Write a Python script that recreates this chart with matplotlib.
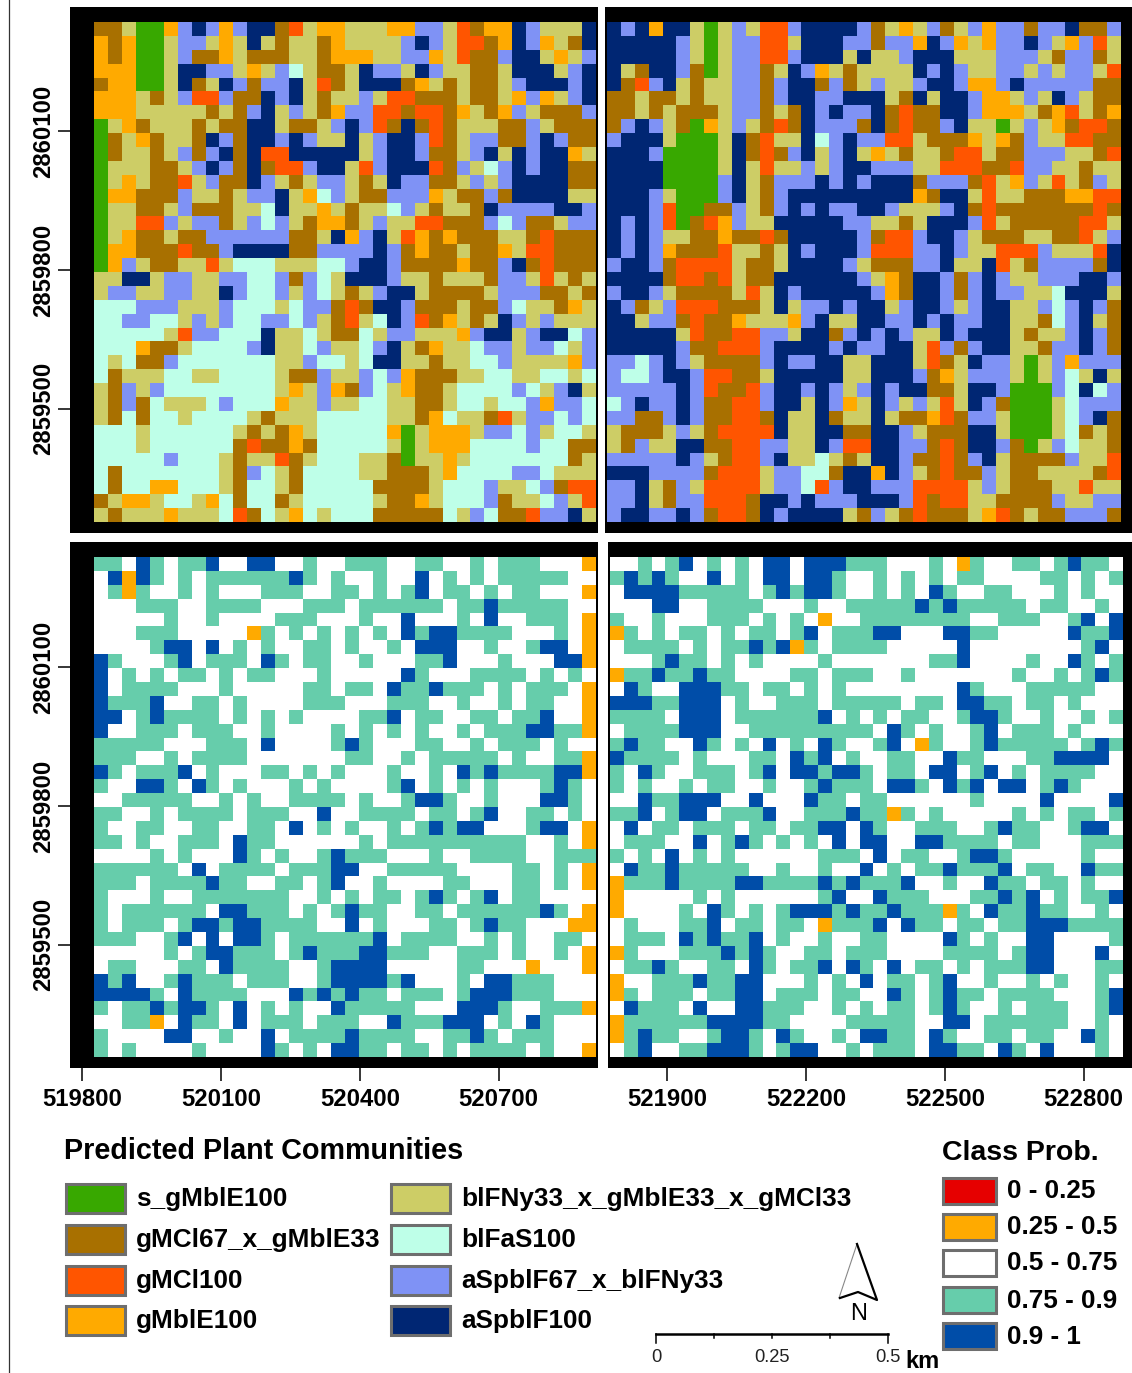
"""
Predicted plant communities and class probability, four map panels
"""

import numpy as np
import matplotlib
matplotlib.use("Agg")
import matplotlib.pyplot as plt
from matplotlib.colors import ListedColormap
from matplotlib.patches import Polygon, Rectangle

plt.rcParams["font.family"] = ["Liberation Sans", "DejaVu Sans"]

W_PX, H_PX = 1132, 1373

# ── DATA ─────────────────────────────────────────────────────────────────────
# community codes: G B R O Y M P N   (same order as COMM_LABELS)
COMM_WEST = [
    "BBYGGOPNPOPNNBRYOO" + "YYYOOPPYRBOONPYYYN",
    "OBOGGYPPYOYNYBYYBO" + "YYYYPNPYRRBONPOYBN",
    "OBOGGYPBBOYBBBYYBO" + "OOYYPPOYRBBPNNYOYP",
    "OOOGGYNNPPYOYPMYBB" + "YNPPYNPYYBBYNNNYPN",
    "BOOGGYNBYNPBPPNYRB" + "YNNNBOYBYBBYPNNNPN",
    "OOOYBYPRRPBBNPNYBY" + "YPYRRBBBYBBYOPOYPN",
    "OOOYYYYYBYBPNYPYBO" + "PPRRBRRBOYBOPYBBBP",
    "GYOBYYYBYBBNNYBBYP" + "NPRBNBRBYYYBBPYBBB",
    "GBYOBYYBNPBNNPNPYY" + "NYPNNPRBYPPBBPNPBB",
    "GBYYBYPBPNBNRRNNNN" + "NYPNNPBBYPNYNPNNOY",
    "GYYYBBYPNPBNBRRPNN" + "YRPNNNRBPYMPNPNNBB",
    "GYOYBBRYPBBNPYBYPP" + "YBYNPPBBYPYPNNNNBB",
    "GOOBBBPYYBYPPNYOMP" + "YBBPPPOYBBPBNNNNYY",
    "GYYBBYPBBBYYMNYYOY" + "BYYMPYBYYBNPPPPNNP",
    "GYYRRPYPPBYPMPYBOO" + "BYPYYRRBBBPMPBBYPP",
    "GYOBBYBBPPPPPPBBYN" + "OPNYROBOBBBYYBRBBB",
    "GOOBBBRBBPNNNNBBPP" + "PPNPBOBBYBBOYRRBBB",
    "GOPYBBYYRYMMMYYYMM" + "PNNPBBBBOBBPNBRBBB",
    "YYNNYPPYYPPMMPBPMY" + "NNNPYYBYYYBPPYRYBY",
    "YPPYYPPYYNPMMPYPMY" + "BYPNNYBBBBYPPPBBYB",
    "MMMPPPYYYPMMMYMPPB" + "RBNNPBBBYBBPMYYBOY",
    "MMPPMMYPYPMMPPMPYB" + "RYMNPRBOYBYNPYPYYY",
    "MMMMMYRPPMMMNYYMYB" + "BMYPPYYYOPNNYPNNMP",
    "MMMOBBYMMMMPNYYMPY" + "YMPNYBOYYMPPYPPMYP",
    "MYMBBPMMMMMMMYYPMM" + "YMNNYYBYYMMPYYYYOP",
    "MBYYYMMYYMMMMYBBPY" + "YPMPOBBBYYMMYYMMYM",
    "YBPYPMMMMMMMMYOYPO" + "BPMYOBBYMMMMPMYPNY",
    "YBPBMYYYMPMMMOYYPY" + "YMMYYBBYMMYMMPOPPM",
    "YBMBMMYMMMMYBYYYMM" + "MMMYYBOMYYBRYPPMPM",
    "MMMYMMMMMMYBYBOYMM" + "MMMOGYOOOYPPMPYMMY",
    "MMMYMMMMMMBRBBOBMM" + "MMMYGYOOOMMMMPMMBB",
    "MMMMMPMMMYBYYRBYMM" + "MYYBGYYOYMMMMMMMBY",
    "MBMMMMMMMYBPMYBMMM" + "MYYBBBYOMMMMPPMYYY",
    "MBMMOOMMMYBMMYBMMM" + "MMBBBBYMMMPYYMPBRR",
    "BYOOYMMYOMBMMBYMMM" + "MMYBBOYMMMPBYYMPYR",
    "YBYYYOYYYMRBMYOMYM" + "MMBBBBBMYPMBBRPPNY",
]

COMM_EAST = [
    "NPNONNYGYPYRRPNNNNPBYOYPBYPOPPBPPNBBP",
    "NNNNNPYGYPPRRYNNNPPBPPONPOYOPPNPYOPRY",
    "NNNNNPYGYPPRRPNNNYNYYPNNNYYYPPPYBPPBY",
    "NYBNNPBGYPPBYNPOYBYYYYNPNPYYPPYPYPPYR",
    "NBRPNYBYYPPBPNNBPBYPYYPNNPOOPNPPPPPBB",
    "BBYBBYBYYPPBPNNPPNNNYBNYNNPOOYPYNPYBB",
    "BBYBYBBBYPPBYBNPNPPNBRBBNNPOOOYBORYBO",
    "BPNPYBGOYPYBRBNPPPBNBRBBPNYYGYPYOBRRB",
    "PNNNYGGGYNBRYYNMPNPPRRYBBBOYOBPYYRRBB",
    "NNNPGGGGYNBRBPNYPNYOYBYYBRRYBBPPPYYBR",
    "NNNNGGGGYNYRYYPYPNNPPPYYRRRBBRPPYYBYY",
    "NNNNGGGGPNYBPPPNPNPNNNBPPPBRYOPYRYBPY",
    "NNNPYGGGPNYBPNNNNNNNNNOBNNYRYYBBBOORR",
    "NNNPRGGBBPYBPNPNPPNNPYYYPNBRBBBBBBBRB",
    "NPNPRGBROPYYNNNNNPPYYBYNNNPRYBBBBBRRY",
    "NPNPYYBBOBBRBNNNNNPBRRPNNPYBBBYYBBRYP",
    "NPNPOBBBRYYBYNPNNNPRRRPPNPYYRRRPYYYRN",
    "PNNPBRRRRYBBYNNNNPYBBBPPNYYNRYBPPPPBN",
    "NNNNBRRBRYBBNNNNNNPYOBNNPBPNPYYPPPNNP",
    "PNNPYBBBBYRYNPNNNNNPOBNNPBPNPPYYMNNNY",
    "NPBYPRRRBBBYNYPPNPNNYPNNPYPNNYYPMPNPB",
    "NNYPPBRBBOYYYOPNYYNNPPNPNPPNNYYBMPNYB",
    "NNNNNYRBBRRPPYNNBPNPNPYYNPNNNYBYYPNPB",
    "NNNNNPBBRRRPNNNNPNPPNNYRPBPNNYYBPPNPB",
    "PPMPNPYBBBBPNPPNNYYNNNYRBYNPPYGYPOPPP",
    "PMMPNNPRRBBYNNNNNYYNNNPBOYPPPYGYPMYNY",
    "PPPPPNPRBBRPNNPNPYPNPNNBBYNNPGGGPMNMP",
    "MPNPPNPBBRRPNNYNPOYNPYPYRYNPBGGGYMPPP",
    "PPBBPNPBBRRBNYYNBYYNYBBORBPPYGGGYMPNB",
    "YBBBYPYBRRRRNYYNNBBNNPYBBBNNYGGGYMBYB",
    "YBPYYNNBBRRPPYYNPRRNNPPBRBNNPBGYPMYYB",
    "PPPPPNPYBRRPNYYMYBYNNPBBRBPNYBBBBPYYR",
    "NNNPPPPBRRRYPPMMBNNONPYBRBBPYBBYYYYBR",
    "PPNYBPYRRRRYPPMRPNNPPPRRRRYPYBBBYYRYY",
    "PPNYBPPRRRBNNPNPPPNNNPRBRRYYBBBBPYYPP",
    "PNNPPNPBRRBNPNNNNYBPYBRBBBYORBYBBPPPB",
]

# probability codes: O W T D   (0.25-0.5, 0.5-0.75, 0.75-0.9, 0.9-1)
PROB_WEST = [
    "TTWDTWTTDWWDDWWTWWTTTWWTTWWTWTTTWWWO",
    "WDODTWTWTTTTTTDTWTWWTWWDWTWTWTTTTTWW",
    "WTOTWWTWTWWWTTTWWTTWTWTDWTTWTWTTWWWO",
    "WWWTTTWWTTTTWWWTTTWTTTTTTWTTDTTTTTWW",
    "WWWWWTWWTWWWWTTTWWWTWWDWWWTWDWWTTTWO",
    "WWWTTTWWWWWOTWTWTWTWTWDTDDTTTTWWWTWO",
    "WWWWTDDWDWTWTWWTTWTWWTWDDDWWTWWTDDWO",
    "DTWWWTDWTTTWDTWTTWWTWWWTTDWWWTWWWDDO",
    "DWTWTWTTWTWTTWWWTWWWWWDTWWWTTTTWTWTW",
    "DWTTTTWWWTWWWWWTTWTTWDTTDTTTWTWTTTWO",
    "DTTTDWWTTWTWWWWTTTWWWTTTWWTWWTWTTWWO",
    "DDWTDTTTTWTWTWTWWWWTTDWTTWWTTWTTDWWO",
    "DWWTTTWTTTWWTWWWWTWTWTWTWWTWTTTDDTTO",
    "TTTTTWWWTTTWDWWWWTDTWWWTTWWTWTTTWTWW",
    "TTTWWTWTTTTWWWWWWWTTWWTWTTTTTWTWWTTO",
    "DTWTTTDWTWWWTTWTWTWWWTWWTWDTDTTTTDDO",
    "TWWDDTWDTWTWWWTWTWWWWTDWTWTWTWWWTDTW",
    "WWTTTTTWWTWTWWTTTTWTWWTDDTWWTWWWDDTW",
    "TTWWTWTTTTWTTTWWDWWTTTTWTTWTDWWTTWTW",
    "TWWTTWWTTWWTTWDWTWTWWTWTDTDDWWWTDDWO",
    "TTWTWWTTTWDTTWWWWWWTWTTTTTTTTTTWWTWO",
    "WWWWTWTWWWDTWTWWTDTTTWWWTWWTTTTWWTTT",
    "TTTTTTWDWTTTTWTTTDDWWTTTTTWWWWTTWTWO",
    "TTTWTTTTDTTWWTTWTDWWTWWWWTTWWWTTWTWO",
    "TWWWTWWTTTTTTTWWTWTWTTWTDTWTDWTTWWWW",
    "TWTTTTTTWDDTTTWTWTDTTWWTTWTTTTTTDTWO",
    "TWTTTWTDDTDDTTTTWWDWTWWWTTWTDTTWWWOO",
    "TTTWWTDWDWDDTWTTTTTTDWTTTTWWTWTWWTTW",
    "WWWWWTWTDDTTTWTDTTTDDTTTWWTTTWTWWTWO",
    "WTTWWWTTWDTTTTWWTDDDDWWWWWTTWWWOWWWO",
    "DTDWWTDTTTWTTTWWTDDDDTDWWWTWDDTTTWWW",
    "DDDDTWDTTTTWWWDTDTDTTWTTTWTDDDTTTWWW",
    "TWTTDTDDTWDWTWTWWDTTTTTWWWDDDTWWTTTO",
    "WWTTOWDTTWDWTTTWTTTWWDTTTDDDWTWDTWWW",
    "TWWWWDDWWTWWDWTTTTDTTTTWWTTDTWTTTWWW",
    "TWTWWWWTWWWWDTWTWDDTTWTTWTWTTTTWTWWO",
]

PROB_EAST = [
    "WWTWTDWTWTWDDWDDDTTTWWWTWOTWWTTWTDTTW",
    "TDTDTWWDWTWDDWDDTWWTWTWTWTTWWWWTTWTWT",
    "WDDDDTTTTTWTDTDDTWWTWTWDTWWTTWWWTWTWW",
    "WWWDDWWTTTTWWWTWWTTTTTDTDTTTTTWTTWWTW",
    "TWWTWWWTTTWTWTWOWWTTTTTTTTWWTTTWWTDWD",
    "OTWTWTTWTWTTWTDWTTTDDWWWDDTTWWWWWDTTD",
    "WTTTTWTWTTDTDOTWTTTTWWWWWDWWWWWWWWTDW",
    "WWWTDTTWTWTWWWWTWWWWWWWTTDWWWWTWWDTWT",
    "OTTDTTDTTWWWWTTWTTTWWTWWWWWWWTWWTWTDT",
    "WDTWWDDDTTWTTWTWTWWWWWWWWDTWWWTTTTTWW",
    "DDDTTDDDWTWWTTTWTTTTTWTTWDDTTWTTWTWWW",
    "TTTTWDDDWTTTTTTDWTWTWTTWWTDDTWWTWWTWT",
    "WTTTTDDDWWTTTTTTTTTWDTWTWWTDWTTTWTWWW",
    "TDTTWWDTWTWDWTWDTWWTDWOTWWTDTTTTTWTDT",
    "DTTTTWTWWWTTWDTDWTWWTTWWDTTWWWTTDDDDW",
    "TWDTWWTTTWTDWDDTDDTWTTWDDWTDWTWTTTTWW",
    "TWTWWTWTTWWTWWTDTTTWDDTWDTDWDDWTDTWWW",
    "WWDTTDDDWWDWWWDTTWTTWWWWWWTWWWWDWWWWD",
    "TTDWTDDWTTTDWWTTTDTTOTWTWWWWWTWTWTTWT",
    "WDWTTWTTTWTTWTTDDWDTWWTTTWWTDTTWWTDDW",
    "WTTTWWDWTDTWTWTWDWDDWWDDTTTTWTTWWWTTT",
    "TWTWDWTWTWWWWWWTTTWDWTTWWTDDTWWWWWTWW",
    "WDTTDTTTTTWWTWWTWWDWTWTTDTTTDWTTWWDTT",
    "OTTTDTTTTDDTTTTDTDTTTDWWTWWDTTWTTWTWW",
    "OWWWWWTWTWWWWWWTDWWDTTTWWWTTDTDWTWTTD",
    "OWWWWTWDTWTWTDDDTDTTDTTTOTWDTTDTTWWTW",
    "WTWWWTTDWTTWTTWOTTTDWDTTWTTWTTDDDTTTT",
    "WTTTWDTDTTDWTWWTWWTTWWWWDTWTWWDDWWWWT",
    "OTWWWTTTDTDTWWTTWTTTWWWWTTTTWTDDWWWDW",
    "WTTDTWWTTWDTWTTDWDTWDWTTWTWTTTDDWWWTT",
    "OWWTTTDTTDDWWWTWTWDWTTWTDWWTWWTWTWWTW",
    "OTWTTTWTTDDWTTTWTTWWDTWTDTTWTTTTWWWTD",
    "WDTTTWDWWDDTTTWWTWTWTTWTDTWWTWTTTWWTD",
    "OTTTTTTDDDDTTWWWWTTTTTWWDDWTTTTTTWWTW",
    "OTDTTWWTDDTWDTWWTWDDTTWDTWWTTWTTWWDTW",
    "WTDWWTTDDDTWTDDWWTWTTTWDDTTWDTWDWWWTW",
]

COMM_CODES = "GBROYMPN"
COMM_COLORS = ["#38A800", "#A87000", "#FF5500", "#FFAA00",
               "#CDCD66", "#BEFFE8", "#7F92F5", "#002673"]
COMM_LABELS = ["s_gMblE100", "gMCl67_x_gMblE33", "gMCl100", "gMblE100",
               "blFNy33_x_gMblE33_x_gMCl33", "blFaS100",
               "aSpblF67_x_blFNy33", "aSpblF100"]

PROB_CODES = "OWTD"
PROB_COLORS = ["#FFAA00", "#FFFFFF", "#66CDAB", "#004DA8"]
CLASS_COLORS = ["#E60000", "#FFAA00", "#FFFFFF", "#66CDAB", "#004DA8"]
CLASS_LABELS = ["0 - 0.25", "0.25 - 0.5", "0.5 - 0.75", "0.75 - 0.9", "0.9 - 1"]

X_TICKS_WEST = [519800, 520100, 520400, 520700]
X_TICKS_EAST = [521900, 522200, 522500, 522800]
Y_TICKS = [2860100, 2859800, 2859500]
SCALE_LABELS = ["0", "0.25", "0.5"]

M_PER_PX = 300 / 138.9   # ground metres per pixel of the figure
TICK_FS = 17.2


def decode(rows, codes):
    return np.array([[codes.index(c) for c in row] for row in rows])


def map_panel(fig, frame, image, grid, colors, x_ref, y_ref, xticks=None, yticks=None):
    """frame / image are (left, top, right, bottom) in figure pixels,
    x_ref / y_ref tie one tick (metres) to its pixel position."""
    l, t, r, b = frame
    ax = fig.add_axes([l / W_PX, 1 - b / H_PX, (r - l) / W_PX, (b - t) / H_PX],
                      facecolor="black")

    to_x = lambda px: x_ref[0] + (px - x_ref[1]) * M_PER_PX
    to_y = lambda py: y_ref[0] - (py - y_ref[1]) * M_PER_PX

    ax.imshow(grid, cmap=ListedColormap(colors), vmin=0, vmax=len(colors) - 1,
              interpolation="nearest", aspect="auto",
              extent=[to_x(image[0]), to_x(image[2]), to_y(image[3]), to_y(image[1])])
    ax.set_xlim(to_x(l), to_x(r))
    ax.set_ylim(to_y(b), to_y(t))
    for s in ax.spines.values():
        s.set_visible(False)

    ax.set_xticks(xticks if xticks else [])
    ax.set_yticks(yticks if yticks else [])
    ax.tick_params(axis="x", length=9, width=1.1, color="black", pad=5.5, labelsize=TICK_FS)
    ax.tick_params(axis="y", length=9, width=1.1, color="black", pad=2, labelsize=TICK_FS)
    for lab in ax.get_xticklabels():
        lab.set_fontweight("bold")
    for lab in ax.get_yticklabels():
        lab.set_fontweight("bold")
        lab.set_rotation(90)
        lab.set_va("center")
    ax.xaxis.set_major_formatter("{x:.0f}")
    ax.yaxis.set_major_formatter("{x:.0f}")
    return ax


fig = plt.figure(figsize=(W_PX / 100, H_PX / 100), dpi=100, facecolor="white")

# ── MAP PANELS ───────────────────────────────────────────────────────────────
west_x = (519800, 82)
east_x = (521900, 667)
top_y = (2860100, 131)
bot_y = (2860100, 667)

map_panel(fig, (70, 7, 598, 533), (94, 22.7, 596, 522),
          decode(COMM_WEST, COMM_CODES), COMM_COLORS, west_x, top_y, yticks=Y_TICKS)
map_panel(fig, (605, 7, 1132, 533), (607.3, 22.7, 1121, 522),
          decode(COMM_EAST, COMM_CODES), COMM_COLORS, east_x, top_y)
map_panel(fig, (70, 542, 598, 1068), (94, 557.7, 596, 1057),
          decode(PROB_WEST, PROB_CODES), PROB_COLORS, west_x, bot_y,
          xticks=X_TICKS_WEST, yticks=Y_TICKS)
map_panel(fig, (608, 542, 1132, 1068), (610, 557.7, 1123, 1057),
          decode(PROB_EAST, PROB_CODES), PROB_COLORS, east_x, bot_y,
          xticks=X_TICKS_EAST)

# ── LEGENDS, NORTH ARROW, SCALE BAR (overlay in pixel coordinates) ───────────
ov = fig.add_axes([0, 0, 1, 1], facecolor="none")
ov.set_xlim(0, W_PX)
ov.set_ylim(H_PX, 0)
ov.axis("off")

ov.plot([8.5, 8.5], [0, H_PX], color="#333333", lw=0.9)


def swatch(x0, y0, x1, y1, color):
    ov.add_patch(Rectangle((x0 + 1.5, y0 + 1.5), x1 - x0 - 3, y1 - y0 - 3,
                           facecolor=color, edgecolor="#6E6E6E", lw=2.2))


LEG_FS = 18.8
ov.text(64, 1151, "Predicted Plant Communities", fontsize=20.7, fontweight="bold",
        va="center", ha="left")
comm_tops = [1182, 1223, 1264, 1304]
for i, y0 in enumerate(comm_tops):
    swatch(64, y0, 126, y0 + 32, COMM_COLORS[i])
    ov.text(136, y0 + 17, COMM_LABELS[i], fontsize=LEG_FS, fontweight="bold",
            va="center", ha="left")
    swatch(389.5, y0, 451, y0 + 32, COMM_COLORS[i + 4])
    ov.text(461, y0 + 17, COMM_LABELS[i + 4], fontsize=LEG_FS, fontweight="bold",
            va="center", ha="left")

ov.text(942, 1153, "Class Prob.", fontsize=20.5, fontweight="bold", va="center", ha="left")
class_tops = [1176, 1212, 1248, 1285, 1321]
for y0, col, lab in zip(class_tops, CLASS_COLORS, CLASS_LABELS):
    swatch(941, y0, 997, y0 + 29, col)
    ov.text(1007, y0 + 15.5, lab, fontsize=LEG_FS, fontweight="bold", va="center", ha="left")

# north arrow
ov.add_patch(Polygon([(857, 1244), (839, 1298), (858, 1293), (877, 1300)],
                     closed=True, facecolor="white", edgecolor="none"))
ov.plot([857, 839], [1244, 1298], color="#888888", lw=0.8)
ov.plot([857, 877, 858, 840], [1244, 1300, 1292, 1298], color="black", lw=1.6)
ov.text(859, 1314, "N", fontsize=17, ha="center", va="center")

# scale bar, 0.5 km
bar_x = [656, 714, 772, 830, 888]
ov.plot([bar_x[0], bar_x[-1]], [1334, 1334], color="black", lw=1.8)
for i, x in enumerate(bar_x):
    ov.plot([x, x], [1334, 1343 if i in (0, 4) else 1338], color="black", lw=1.1)
for x, lab in zip(bar_x[::2], SCALE_LABELS):
    ov.text(x, 1358, lab, fontsize=13.2, ha="center", va="center", color="#222222")
ov.text(905, 1362, "km", fontsize=17, fontweight="bold", ha="left", va="center")

fig.savefig("out.png", dpi=100, facecolor="white")
